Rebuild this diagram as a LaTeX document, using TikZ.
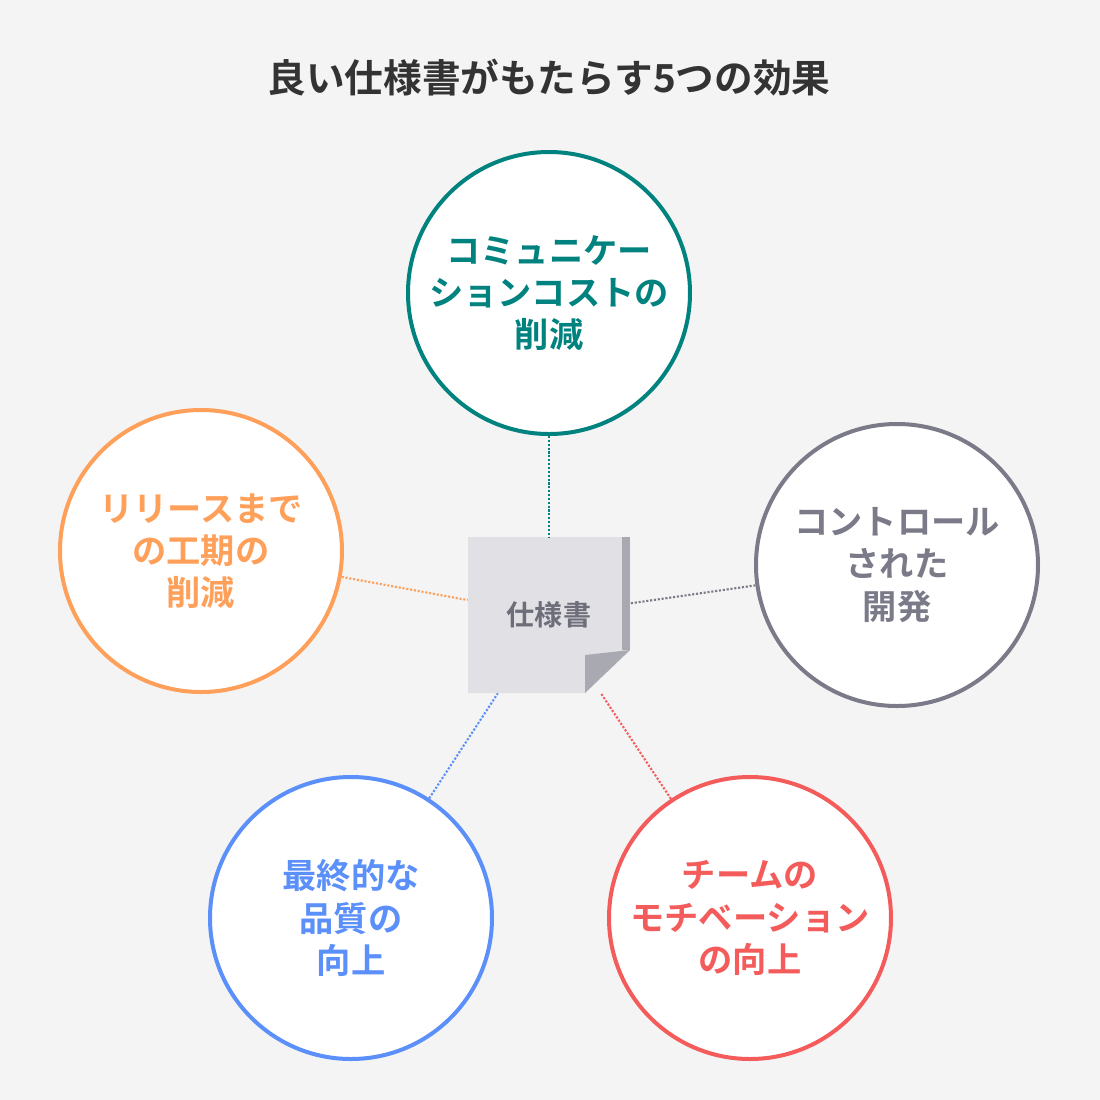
\documentclass[tikz,border=0pt]{standalone}
\usepackage{fontspec}
\setmainfont{Noto Sans CJK JP}[BoldFont={* Bold}]
\begin{document}
\begin{tikzpicture}[x=0.02cm,y=-0.02cm,
  circ/.style={circle,draw=#1,line width=0.08cm,fill=white,minimum size=282*0.02cm,inner sep=0,align=center,text=#1,font=\bfseries\fontsize{19.5}{24}\selectfont},
  conn/.style={draw=#1,densely dotted,line width=1.2pt}]
\definecolor{bg}{HTML}{F4F4F4}
\definecolor{teal}{HTML}{00827F}
\definecolor{org}{HTML}{FFA05A}
\definecolor{gry}{HTML}{7A7A88}
\definecolor{blu}{HTML}{5B8FF9}
\definecolor{rd}{HTML}{F45B5B}
\definecolor{docf}{HTML}{E1E1E5}
\definecolor{fold}{HTML}{A9A9B1}
\fill[bg] (0,0) rectangle (1100,1100);
\useasboundingbox (0,0) rectangle (1100,1100);
\node[font=\bfseries\fontsize{22}{26}\selectfont,text=black!80] (title) at (549,78) {良い仕様書がもたらす5つの効果};
% document
\fill[docf] (468,537) -- (630,537) -- (630,650) -- (585,693) -- (468,693) -- cycle;
\fill[fold] (622,537) -- (630,537) -- (630,650) -- (622,650) -- cycle;
\fill[fold] (585,693) -- (585,655) -- (630,650) -- cycle;
\node[minimum width=162*0.02cm,minimum height=156*0.02cm,inner sep=0,text=gry!90!black,font=\bfseries\fontsize{16}{19}\selectfont] (doc) at (549,615) {仕様書};
\node[circ=teal] (c1) at (549,293) {コミュニケー\\ションコストの\\削減};
\node[circ=org] (c2) at (201,551) {リリースまで\\の工期の\\削減};
\node[circ=gry] (c3) at (897,565) {コントロール\\された\\開発};
\node[circ=blu] (c4) at (351,918) {最終的な\\品質の\\向上};
\node[circ=rd] (c5) at (750,918) {チームの\\モチベーション\\の向上};
\draw[conn=teal] (c1) -- (doc);
\draw[conn=org] (c2) -- (doc);
\draw[conn=gry] (c3) -- (doc);
\draw[conn=blu] (c4) -- (doc);
\draw[conn=rd] (c5) -- (doc);
\end{tikzpicture}
\end{document}
